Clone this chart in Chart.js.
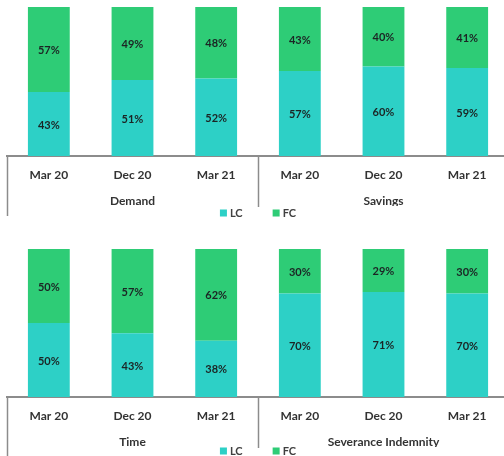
<!DOCTYPE html>
<html>
<head>
<meta charset="utf-8">
<script src="https://cdn.jsdelivr.net/npm/chart.js@4.4.0/dist/chart.umd.min.js"></script>
<style>
body { margin: 0; background: #fff; overflow: hidden; width: 504px; height: 456px; }
canvas { display: block; }
</style>
</head>
<body>
<canvas id="topChart" width="512" height="228"></canvas>
<canvas id="bottomChart" width="512" height="228"></canvas>
<script>
const periods = ["Mar 20", "Dec 20", "Mar 21"];
const seriesNames = ["LC", "FC"];
const seriesColors = ["#2dd0c6", "#2ecc76"];

// top panel
const topGroups = ["Demand", "Savings"];
const topLC = [43, 51, 52, 57, 60, 59];
const topFC = [57, 49, 48, 43, 40, 41];

// bottom panel
const bottomGroups = ["Time", "Severance Indemnity"];
const bottomLC = [50, 43, 38, 70, 71, 70];
const bottomFC = [50, 57, 62, 30, 29, 30];

const labelFont = { family: "Lato", size: 12, weight: "bold" };

const decorations = {
	id: "decorations",
	afterDatasetsDraw(chart) {
		const ctx = chart.ctx;
		ctx.save();
		ctx.font = "bold 11px Lato";
		ctx.fillStyle = "#1c2424";
		ctx.textAlign = "center";
		ctx.textBaseline = "middle";
		chart.data.datasets.forEach((ds, i) => {
			chart.getDatasetMeta(i).data.forEach((bar, j) => {
				const p = bar.getCenterPoint();
				ctx.fillText(ds.data[j] + "%", p.x, p.y + 1);
			});
		});
		ctx.restore();
	},
	afterDraw(chart, args, opts) {
		const ctx = chart.ctx;
		const area = chart.chartArea;
		const x = chart.scales.x;
		const n = x.ticks.length;
		const step = x.getPixelForTick(1) - x.getPixelForTick(0);

		// group dividers
		ctx.save();
		ctx.strokeStyle = "#8c8c8c";
		ctx.lineWidth = 1.5;
		for (let i = 0; i < n; i += periods.length) {
			const px = Math.round(x.getPixelForTick(i) - step / 2) + 0.5;
			const len = i === 0 ? opts.edgeLen : opts.midLen;
			ctx.beginPath();
			ctx.moveTo(px, area.bottom);
			ctx.lineTo(px, area.bottom + len);
			ctx.stroke();
		}

		// legend
		ctx.font = "bold 11px Lato";
		ctx.textBaseline = "middle";
		ctx.textAlign = "left";
		const items = chart.data.datasets.map(ds => ({
			text: ds.label,
			color: ds.backgroundColor,
			w: 7 + 3 + ctx.measureText(ds.label).width
		}));
		const gap = 30;
		const total = items.reduce((s, it) => s + it.w, 0) + gap * (items.length - 1);
		let cx = (area.left + area.right) / 2 - total / 2;
		const cy = area.bottom + opts.legendDrop;
		items.forEach(it => {
			ctx.fillStyle = it.color;
			ctx.fillRect(cx, cy - 3.5, 7, 7);
			ctx.fillStyle = "#404040";
			ctx.fillText(it.text, cx + 10, cy + 0.5);
			cx += it.w + gap;
		});
		ctx.restore();
	}
};

function makeChart(id, groups, lc, fc, padTop, padBottom, deco) {
	return new Chart(document.getElementById(id), {
		type: "bar",
		data: {
			labels: groups.flatMap(() => periods),
			datasets: [
				{ label: seriesNames[0], data: lc, backgroundColor: seriesColors[0] },
				{ label: seriesNames[1], data: fc, backgroundColor: seriesColors[1] }
			]
		},
		options: {
			responsive: false,
			animation: false,
			layout: { padding: { left: 7, right: 3, top: padTop, bottom: padBottom } },
			datasets: { bar: { barPercentage: 0.5, categoryPercentage: 1 } },
			scales: {
				x: {
					stacked: true,
					grid: { display: false, drawTicks: false },
					border: { display: true, color: "#8c8c8c", width: 2 },
					ticks: { padding: 12, font: labelFont, color: "#333333", maxRotation: 0 },
					afterFit: s => { s.height = 30; }
				},
				x2: {
					type: "category",
					labels: groups,
					offset: true,
					position: "bottom",
					grid: { display: false, drawTicks: false },
					border: { display: false },
					ticks: { padding: 8, font: labelFont, color: "#333333", maxRotation: 0 },
					afterFit: s => { s.height = 20; }
				},
				y: { stacked: true, display: false, min: 0, max: 100 }
			},
			plugins: {
				legend: { display: false },
				tooltip: { enabled: false },
				decorations: deco
			}
		},
		plugins: [decorations]
	});
}

makeChart("topChart", topGroups, topLC, topFC, 7, 22, { edgeLen: 60, midLen: 51, legendDrop: 57 });
makeChart("bottomChart", bottomGroups, bottomLC, bottomFC, 21, 9, { edgeLen: 60, midLen: 51, legendDrop: 54 });
</script>
</body>
</html>
